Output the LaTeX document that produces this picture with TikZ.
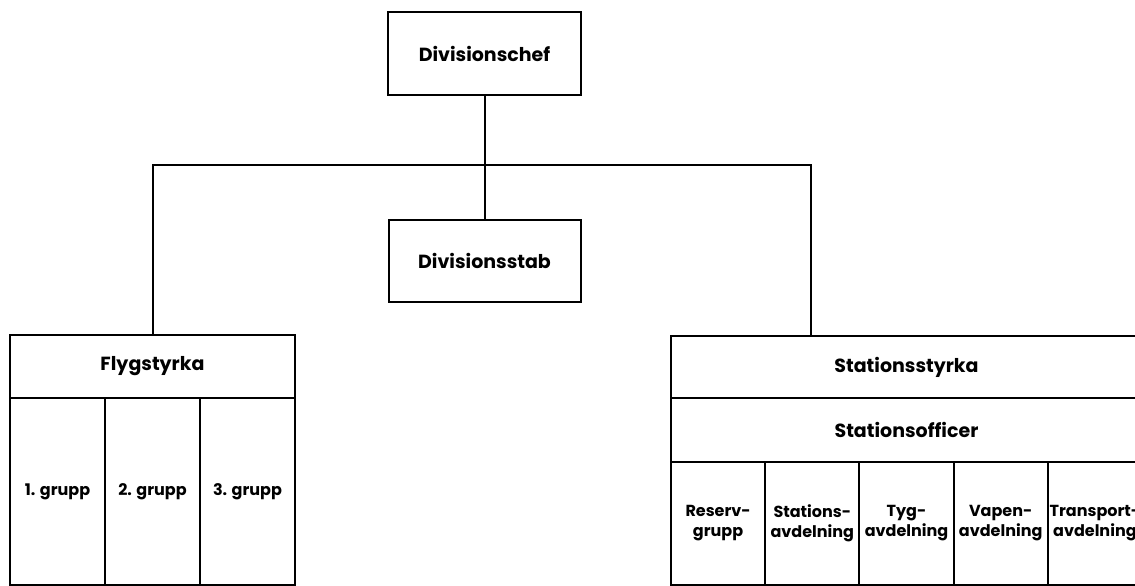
\documentclass[tikz,border=0pt]{standalone}
\usepackage{fontspec}
\setsansfont{Poppins}
\usetikzlibrary{positioning}
\tikzset{
	cell/.style={draw, line width=2pt, inner sep=0pt, font=\sffamily\bfseries\fontsize{19}{22}\selectfont},
	smallcell/.style={cell, align=center, font=\sffamily\bfseries\fontsize{16}{20}\selectfont},
	wire/.style={line width=2pt}
}

\begin{document}
\begin{tikzpicture}[x=1pt, y=-1pt]
		%%%%% START %%%%%
		\useasboundingbox (0, 0) rectangle (1135, 586);
		
		\node[cell, minimum width=193, minimum height=83] (chef) at (484.5, 53.5) {Divisionschef};
		\node[cell, minimum width=192, minimum height=82] (stab) at (484.5, 261) {Divisionsstab};
		
		\node[cell, minimum width=285, minimum height=63] (flyg) at (152.5, 366.5) {Flygstyrka};
		\node[smallcell, minimum width=95, minimum height=187] (g1) at (57.5, 491.5) {1. grupp};
		\node[smallcell, minimum width=95, minimum height=187] (g2) at (152.5, 491.5) {2. grupp};
		\node[smallcell, minimum width=95, minimum height=187] (g3) at (247.5, 491.5) {3. grupp};
		
		\node[cell, minimum width=471, minimum height=62] (station) at (906.5, 367) {Stationsstyrka};
		\node[cell, minimum width=471, minimum height=64] (officer) at (906.5, 430) {Stationsofficer};
		\node[smallcell, minimum width=94.2, minimum height=123] (avd1) at (718.1, 523.5) {Reserv-\\grupp};
		\node[smallcell, minimum width=94.2, minimum height=123] (avd2) at (812.3, 523.5) {Stations-\\avdelning};
		\node[smallcell, minimum width=94.2, minimum height=123] (avd3) at (906.5, 523.5) {Tyg-\\avdelning};
		\node[smallcell, minimum width=94.2, minimum height=123] (avd4) at (1000.7, 523.5) {Vapen-\\avdelning};
		\node[smallcell, minimum width=94.2, minimum height=123] (avd5) at (1094.9, 523.5) {Transport-\\avdelning};
		
		\coordinate (bus) at (484.5, 165);
		\coordinate (stntop) at (811, 336);
		
		\draw[wire] (chef.south) -- (stab.north);
		\draw[wire] (flyg.north) |- (bus) -| (stntop);
		
		%%%%% END %%%%%
	\end{tikzpicture}
\end{document}
